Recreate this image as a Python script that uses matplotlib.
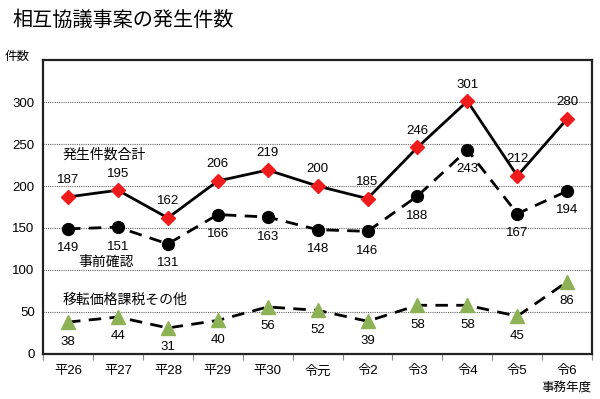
import matplotlib
matplotlib.use("Agg")
import matplotlib.pyplot as plt
import numpy as np

plt.rcParams['font.family'] = ['Liberation Sans', 'Noto Sans CJK JP', 'DejaVu Sans']

categories = ['平26', '平27', '平28', '平29', '平30', '令元', '令2', '令3', '令4', '令5', '令6']
total = [187, 195, 162, 206, 219, 200, 185, 246, 301, 212, 280]
apa = [149, 151, 131, 166, 163, 148, 146, 188, 243, 167, 194]
other = [38, 44, 31, 40, 56, 52, 39, 58, 58, 45, 86]
yticks = [0, 50, 100, 150, 200, 250, 300]

fig = plt.figure(figsize=(6, 3.99), dpi=100)
ax = fig.add_axes([0.0717, 0.1128, 0.9153, 0.7368])
x = np.arange(len(categories))

ax.plot(x, total, color='black', lw=2, marker='D', ms=7.5, mfc='#ee1c1c', mec='#ee1c1c', zorder=3)
ax.plot(x, apa, color='black', lw=2, ls=(0, (4.5, 3)), marker='o', ms=8.5, mfc='black', mec='black', zorder=3)
ax.plot(x, other, color='black', lw=2, ls=(0, (4.5, 3)), marker='^', ms=9.5, mfc='#8db255', mec='#8db255', zorder=3)

for xi, v in zip(x, total):
    ax.annotate(str(v), (xi, v), xytext=(0, 12), textcoords='offset points', ha='center', va='center', fontsize=9.5)
for xi, v in zip(x, apa):
    ax.annotate(str(v), (xi, v), xytext=(0, -14), textcoords='offset points', ha='center', va='center', fontsize=9.5)
for xi, v in zip(x, other):
    ax.annotate(str(v), (xi, v), xytext=(0, -14), textcoords='offset points', ha='center', va='center', fontsize=9.5)

ax.text(-0.1, 237, '発生件数合計', fontsize=10, ha='left', va='center')
ax.text(0.2, 110, '事前確認', fontsize=10, ha='left', va='center')
ax.text(-0.1, 65, '移転価格課税その他', fontsize=10, ha='left', va='center')

ax.set_xlim(-0.5, len(categories) - 0.5)
ax.set_ylim(0, 350)
ax.set_yticks(yticks)
ax.set_yticklabels([str(t) for t in yticks], fontsize=9.5)
ax.set_xticks(x)
ax.set_xticklabels(categories, fontsize=9.5)
ax.set_xticks(np.arange(-0.5, len(categories), 1), minor=True)
ax.tick_params(axis='x', which='major', length=0, pad=8)
ax.tick_params(axis='x', which='minor', length=4, width=0.8, color='#888888')
ax.tick_params(axis='y', length=0, pad=6)
for yv in yticks[1:]:
    ax.axhline(yv, color='#666666', lw=0.8, ls=(0, (1, 1)), zorder=1)
for s in ax.spines.values():
    s.set_color('#222222')
    s.set_linewidth(1.6)

fig.text(0.02, 0.95, '相互協議事案の発生件数', fontsize=14.5, ha='left', va='center')
fig.text(0.008, 0.857, '件数', fontsize=9, ha='left', va='center')
fig.text(0.985, 0.025, '事務年度', fontsize=9, ha='right', va='center')

fig.savefig('out.png', dpi=100)
